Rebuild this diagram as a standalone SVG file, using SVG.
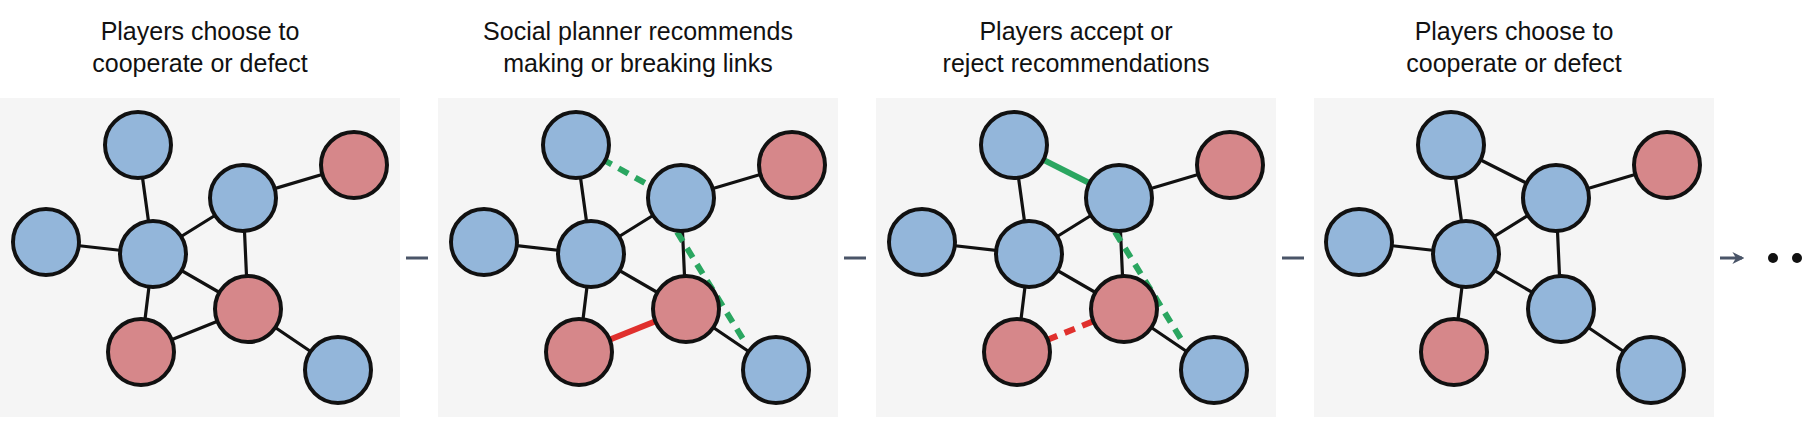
<svg xmlns="http://www.w3.org/2000/svg" width="1813" height="440" viewBox="0 0 1813 440">
<defs>
<style>
.t{font-family:"Liberation Sans",Arial,sans-serif;font-size:25px;fill:#111;text-anchor:middle}
.bg{fill:#f5f5f5}
.e{stroke:#111;stroke-width:3.2;fill:none}
.g{stroke:#2aa660;stroke-width:6;fill:none}
.gd{stroke:#2aa660;stroke-width:6;stroke-dasharray:11 8;fill:none}
.r{stroke:#e0302d;stroke-width:6;fill:none}
.rd{stroke:#e0302d;stroke-width:6;stroke-dasharray:11 8;fill:none}
.b{fill:#93b6da;stroke:#111;stroke-width:4}
.p{fill:#d6878a;stroke:#111;stroke-width:4}
.a{stroke:#4a5568;stroke-width:3;fill:none}
</style>
<marker id="ah" viewBox="0 0 10 10" refX="8" refY="5" markerWidth="4" markerHeight="4" orient="auto"><path d="M0,0 L10,5 L0,10 L3,5 z" fill="#4a5568"/></marker>
</defs>
<g id="titles">
<text class="t" x="200" y="40">Players choose to</text><text class="t" x="200" y="72">cooperate or defect</text>
<text class="t" x="638" y="40">Social planner recommends</text><text class="t" x="638" y="72">making or breaking links</text>
<text class="t" x="1076" y="40">Players accept or</text><text class="t" x="1076" y="72">reject recommendations</text>
<text class="t" x="1514" y="40">Players choose to</text><text class="t" x="1514" y="72">cooperate or defect</text>
</g>
<g id="panels">
<rect class="bg" x="0" y="98" width="400" height="319"/>
<rect class="bg" x="438" y="98" width="400" height="319"/>
<rect class="bg" x="876" y="98" width="400" height="319"/>
<rect class="bg" x="1314" y="98" width="400" height="319"/>
</g>
<g id="connectors">
<g transform="translate(0,0)">
<path class="e" d="M138,145L153,254M46,242L153,254M153,254L243,198M243,198L354,165M243,198L248,309M153,254L248,309M153,254L141,352M141,352L248,309M248,309L338,370"/>
</g>
<g transform="translate(438,0)">
<path class="e" d="M138,145L153,254M46,242L153,254M153,254L243,198M243,198L354,165M243,198L248,309M153,254L248,309M153,254L141,352M248,309L338,370"/>
<path class="gd" d="M164,159L216,188M239,232L305,339"/>
<path class="r" d="M141,352L248,309"/>
</g>
<g transform="translate(876,0)">
<path class="e" d="M138,145L153,254M46,242L153,254M153,254L243,198M243,198L354,165M243,198L248,309M153,254L248,309M153,254L141,352M248,309L338,370"/>
<path class="g" d="M138,145L243,198"/>
<path class="gd" d="M239,232L305,339"/>
<path class="rd" d="M171,340L218,321"/>
</g>
<g transform="translate(1313,0)">
<path class="e" d="M138,145L153,254M46,242L153,254M153,254L243,198M243,198L354,165M243,198L248,309M153,254L248,309M153,254L141,352M248,309L338,370M138,145L243,198"/>
</g>
<path class="a" marker-end="url(#ah)" d="M406,258H428M844,258H866M1282,258H1304M1720,258H1742"/>
</g>
<g id="dots"><circle cx="1773" cy="258" r="5" fill="#111"/><circle cx="1797" cy="258" r="5" fill="#111"/></g>
<g id="nodes1">
<circle id="p1T" class="b" cx="138" cy="145" r="33"/><circle id="p1R" class="p" cx="354" cy="165" r="33"/><circle id="p1U" class="b" cx="243" cy="198" r="33"/><circle id="p1L" class="b" cx="46" cy="242" r="33"/><circle id="p1C" class="b" cx="153" cy="254" r="33"/><circle id="p1X" class="p" cx="248" cy="309" r="33"/><circle id="p1B" class="p" cx="141" cy="352" r="33"/><circle id="p1S" class="b" cx="338" cy="370" r="33"/>
</g>
<g id="nodes2" transform="translate(438,0)">
<circle id="p2T" class="b" cx="138" cy="145" r="33"/><circle id="p2R" class="p" cx="354" cy="165" r="33"/><circle id="p2U" class="b" cx="243" cy="198" r="33"/><circle id="p2L" class="b" cx="46" cy="242" r="33"/><circle id="p2C" class="b" cx="153" cy="254" r="33"/><circle id="p2X" class="p" cx="248" cy="309" r="33"/><circle id="p2B" class="p" cx="141" cy="352" r="33"/><circle id="p2S" class="b" cx="338" cy="370" r="33"/>
</g>
<g id="nodes3" transform="translate(876,0)">
<circle id="p3T" class="b" cx="138" cy="145" r="33"/><circle id="p3R" class="p" cx="354" cy="165" r="33"/><circle id="p3U" class="b" cx="243" cy="198" r="33"/><circle id="p3L" class="b" cx="46" cy="242" r="33"/><circle id="p3C" class="b" cx="153" cy="254" r="33"/><circle id="p3X" class="p" cx="248" cy="309" r="33"/><circle id="p3B" class="p" cx="141" cy="352" r="33"/><circle id="p3S" class="b" cx="338" cy="370" r="33"/>
</g>
<g id="nodes4" transform="translate(1313,0)">
<circle id="p4T" class="b" cx="138" cy="145" r="33"/><circle id="p4R" class="p" cx="354" cy="165" r="33"/><circle id="p4U" class="b" cx="243" cy="198" r="33"/><circle id="p4L" class="b" cx="46" cy="242" r="33"/><circle id="p4C" class="b" cx="153" cy="254" r="33"/><circle id="p4X" class="b" cx="248" cy="309" r="33"/><circle id="p4B" class="p" cx="141" cy="352" r="33"/><circle id="p4S" class="b" cx="338" cy="370" r="33"/>
</g>
</svg>
